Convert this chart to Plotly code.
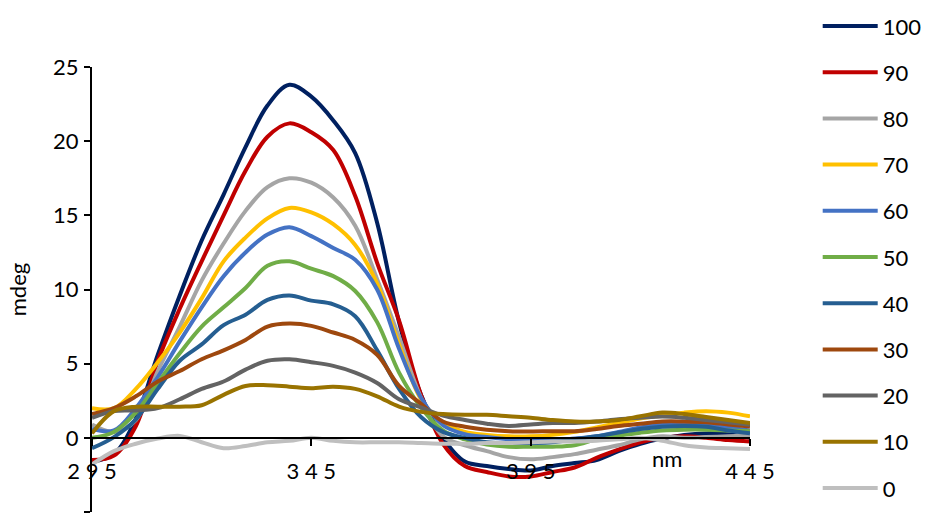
import plotly.graph_objects as go

# Wavelength grid (nm)
wavelength = [295, 300, 305, 310, 315, 320, 325, 330, 335, 340, 345, 350, 355, 360, 365,
              370, 375, 380, 385, 390, 395, 400, 405, 410, 415, 420, 425, 430, 435, 440, 445]

# CD signal (mdeg) for each level
s100 = [-1.6, -1.1, 1.3, 5.6, 9.6, 13.3, 16.4, 19.6, 22.4, 23.8, 23.0, 21.4, 19.2, 14.5, 7.8,
        2.9, 0.0, -1.6, -1.9, -2.1, -2.2, -1.9, -1.7, -1.5, -0.9, -0.4, -0.05, 0.2, 0.3, 0.25, 0.0]
s90 = [-1.5, -1.2, 0.8, 5.2, 8.7, 11.9, 15.0, 18.0, 20.3, 21.2, 20.6, 19.4, 16.3, 11.8, 7.9,
       2.9, -0.4, -1.9, -2.3, -2.6, -2.6, -2.3, -2.0, -1.35, -0.8, -0.3, 0.0, 0.1, 0.0, -0.15, -0.25]
s80 = [0.9, 0.4, 1.2, 4.5, 7.5, 10.6, 13.1, 15.3, 16.9, 17.5, 17.2, 16.2, 14.3, 10.7, 6.8,
       2.7, 0.1, -0.5, -0.9, -1.3, -1.45, -1.3, -1.1, -0.8, -0.5, -0.1, 0.1, 0.0, 0.05, 0.1, 0.15]
s70 = [2.0, 2.0, 3.3, 5.1, 7.1, 9.4, 11.9, 13.5, 14.8, 15.5, 15.2, 14.4, 13.0, 10.4, 6.3,
       2.6, 1.0, 0.4, 0.2, 0.1, 0.1, 0.2, 0.4, 0.7, 1.0, 1.3, 1.5, 1.7, 1.8, 1.7, 1.45]
s60 = [0.6, 0.5, 2.0, 4.1, 6.5, 8.8, 10.9, 12.5, 13.7, 14.2, 13.6, 12.8, 12.0, 10.0, 6.0,
       2.7, 0.85, 0.25, 0.05, -0.1, -0.2, -0.2, -0.05, 0.1, 0.4, 0.7, 0.9, 1.0, 0.95, 0.7, 0.5]
s50 = [0.0, 0.4, 1.7, 3.7, 5.7, 7.5, 8.8, 10.1, 11.6, 11.9, 11.4, 10.9, 9.9, 7.8, 4.4,
       2.05, 0.5, -0.1, -0.45, -0.6, -0.6, -0.6, -0.5, -0.1, 0.15, 0.35, 0.5, 0.55, 0.55, 0.5, 0.45]
s40 = [-0.7, 0.05, 1.25, 3.3, 5.2, 6.3, 7.6, 8.3, 9.3, 9.6, 9.25, 9.0, 8.2, 5.9, 3.3,
       1.4, 0.4, 0.0, -0.3, -0.35, -0.35, -0.3, -0.1, 0.1, 0.35, 0.6, 0.75, 0.8, 0.75, 0.5, 0.3]
s30 = [1.6, 2.0, 2.8, 3.8, 4.5, 5.3, 5.9, 6.6, 7.5, 7.7, 7.55, 7.1, 6.6, 5.6, 3.5,
       2.3, 1.1, 0.75, 0.55, 0.45, 0.43, 0.45, 0.45, 0.6, 0.8, 0.95, 1.1, 1.1, 1.05, 0.9, 0.76]
s20 = [1.35, 1.8, 1.85, 2.0, 2.6, 3.3, 3.8, 4.6, 5.2, 5.3, 5.1, 4.85, 4.4, 3.7, 2.6,
       2.05, 1.5, 1.2, 0.95, 0.8, 0.9, 1.0, 1.0, 1.1, 1.25, 1.35, 1.43, 1.35, 1.2, 1.05, 0.88]
s10 = [0.3, 1.8, 2.1, 2.1, 2.1, 2.2, 2.9, 3.5, 3.55, 3.45, 3.35, 3.45, 3.3, 2.8, 2.1,
       1.75, 1.6, 1.55, 1.55, 1.45, 1.35, 1.2, 1.1, 1.1, 1.2, 1.45, 1.7, 1.6, 1.4, 1.2, 1.0]
s0 = [-1.8, -0.9, -0.4, -0.05, 0.13, -0.3, -0.7, -0.55, -0.3, -0.2, 0.0, -0.2, -0.3, -0.3, -0.3,
      -0.35, -0.4, -0.4, -0.35, -0.35, -0.3, -0.25, -0.25, -0.2, -0.1, 0.0, -0.2, -0.5, -0.65, -0.7, -0.75]

series_names = ["100", "90", "80", "70", "60", "50", "40", "30", "20", "10", "0"]
series_values = [s100, s90, s80, s70, s60, s50, s40, s30, s20, s10, s0]
series_colors = ["#002060", "#C00000", "#A5A5A5", "#FFC000", "#4472C4", "#70AD47",
                 "#255E91", "#9E480E", "#636363", "#997300", "#BFBFBF"]

x_ticks = [295, 345, 395, 445]
y_ticks = [-5, 0, 5, 10, 15, 20, 25]

FONT = "Lato"
FS = 22

fig = go.Figure()
for name, vals, col in zip(series_names, series_values, series_colors):
    fig.add_trace(go.Scatter(
        x=wavelength, y=vals, name=name, mode="lines",
        line=dict(color=col, width=4, shape="spline", smoothing=1.0),
        legendgroup=name,
    ))

fig.update_layout(
    width=925, height=520,
    margin=dict(l=92, r=175, t=67, b=8),
    paper_bgcolor="white", plot_bgcolor="white",
    font=dict(family=FONT, size=FS, color="black"),
    showlegend=True,
    legend=dict(
        xref="container", yref="container",
        x=0.884, y=0.990, xanchor="left", yanchor="top",
        font=dict(family=FONT, size=FS, color="black"),
        itemwidth=55, tracegroupgap=14.6, maxheight=1000,
        bgcolor="rgba(0,0,0,0)",
    ),
    xaxis=dict(
        range=[295, 445], anchor="free", position=5 / 30,
        showgrid=False, zeroline=False,
        showline=True, linecolor="black", linewidth=2,
        ticks="outside", ticklen=7, tickwidth=2, tickcolor="black",
        tickvals=x_ticks, ticktext=[" ".join(str(v)) for v in x_ticks],
        ticklabelstandoff=7,
        tickfont=dict(family=FONT, size=FS, color="black"),
    ),
    yaxis=dict(
        range=[-5, 25], showgrid=False, zeroline=False,
        showline=True, linecolor="black", linewidth=2,
        ticks="outside", ticklen=6, tickwidth=2, tickcolor="black",
        tickvals=y_ticks, ticklabelstandoff=1,
        tickfont=dict(family=FONT, size=FS, color="black"),
    ),
    annotations=[
        dict(text="nm", xref="paper", yref="paper", x=0.874, y=0.12,
             xanchor="center", yanchor="middle", showarrow=False,
             font=dict(family=FONT, size=FS, color="black")),
        dict(text="mdeg", xref="paper", yref="paper", x=-0.112, y=0.499,
             xanchor="center", yanchor="middle", showarrow=False, textangle=-90,
             font=dict(family=FONT, size=FS, color="black")),
    ],
)

fig.write_html("out.html")
